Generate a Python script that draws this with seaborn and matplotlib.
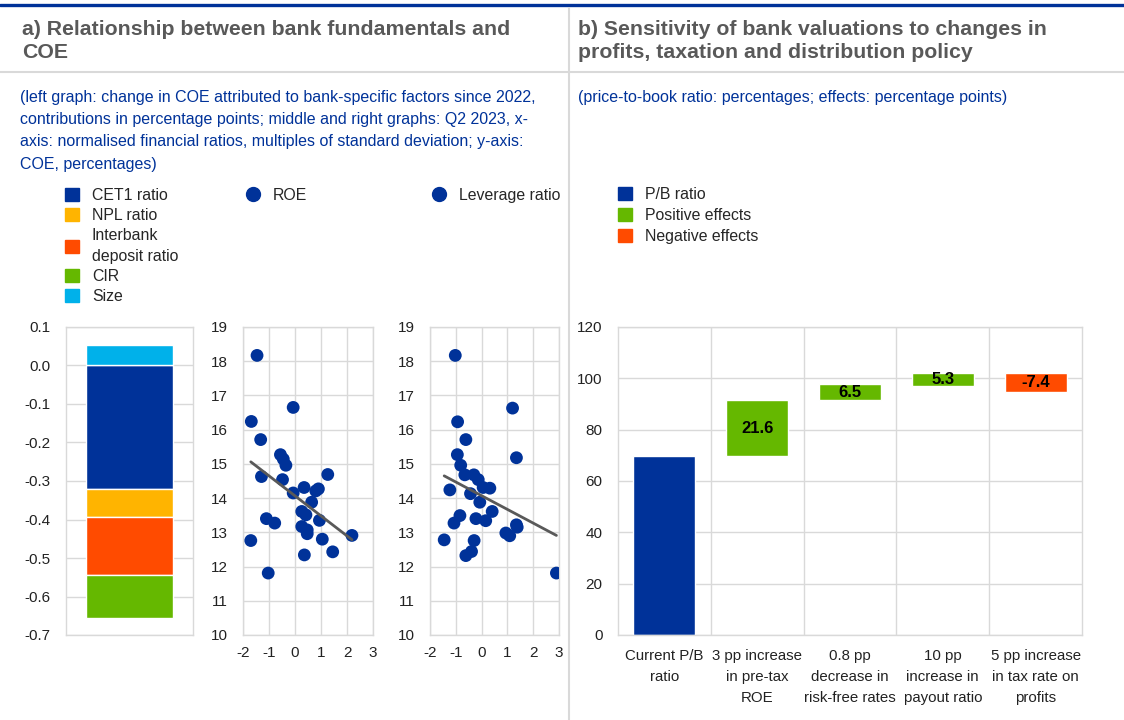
import numpy as np
import pandas as pd
import seaborn as sns
import matplotlib.pyplot as plt
from matplotlib.patches import Patch
from matplotlib.lines import Line2D

# Данные: панель a) вклад факторов в изменение COE
stack_labels = ["CET1 ratio", "NPL ratio", "Interbank\ndeposit ratio", "CIR", "Size"]
stack_values = [-0.321, -0.072, -0.151, -0.113, 0.054]
stack_colors = ["#003299", "#FFB400", "#FF4B00", "#65B800", "#00B1EA"]

# ROE (нормализованный) и COE, %
roe_x = [-1.46, -0.07, -1.68, -1.32, -0.56, -0.45, -0.35, -1.29, -0.48, 1.26,
         0.35, 0.90, 0.80, -0.07, 0.64, 0.26, 0.42, -1.10, -0.78, 0.94,
         0.26, 0.47, 0.47, 2.19, -1.70, 1.05, 1.45, 0.36, -1.03]
roe_coe = [18.17, 16.65, 16.24, 15.71, 15.27, 15.14, 14.96, 14.63, 14.54, 14.69,
           14.31, 14.27, 14.21, 14.15, 13.88, 13.61, 13.51, 13.40, 13.27, 13.35,
           13.17, 13.07, 12.96, 12.91, 12.76, 12.80, 12.43, 12.34, 11.81]

# Leverage ratio (нормализованный) и COE, %
lev_x = [-1.02, 1.20, -0.93, -0.61, -0.94, 1.35, -0.81, -0.65, -0.30, -0.13,
         -1.23, 0.06, 0.32, -0.43, -0.07, 0.41, -0.84, -0.22, 0.16, -1.07,
         1.35, 1.38, 0.94, 1.09, -1.45, -0.29, -0.39, -0.61, 2.90]
lev_coe = [18.17, 16.63, 16.23, 15.71, 15.27, 15.18, 14.96, 14.68, 14.68, 14.54,
           14.24, 14.31, 14.29, 14.13, 13.88, 13.61, 13.49, 13.40, 13.34, 13.27,
           13.22, 13.15, 12.98, 12.90, 12.78, 12.76, 12.44, 12.32, 11.81]

# Панель b) водопад P/B
wf_labels = ["Current P/B\nratio", "3 pp increase\nin pre-tax\nROE", "0.8 pp\ndecrease in\nrisk-free rates",
             "10 pp\nincrease in\npayout ratio", "5 pp increase\nin tax rate on\nprofits"]
wf_start = [0, 69.8, 91.4, 96.9, 102.0]
wf_values = [69.8, 21.6, 6.5, 5.3, -7.4]

BLUE = "#003299"
GREEN = "#65B800"
RED = "#FF4B00"
GRIDC = "#d9d9d9"
TXT = "#222222"

sns.set_style("white")
plt.rcParams["font.family"] = ["Liberation Sans", "DejaVu Sans"]
plt.rcParams["axes.unicode_minus"] = False

W, H = 1124, 720
fig = plt.figure(figsize=(W / 100, H / 100), dpi=100)


def box(l, t, r, b):
    return [l / W, 1 - b / H, (r - l) / W, (b - t) / H]


def style_ax(ax):
    for s in ax.spines.values():
        s.set_color(GRIDC)
        s.set_linewidth(1)
    ax.tick_params(length=0, labelsize=11, colors=TXT)
    ax.tick_params(axis="y", pad=11)
    ax.tick_params(axis="x", pad=8)
    ax.set_axisbelow(True)
    ax.set_xlabel("")
    ax.set_ylabel("")


# рамки и разделители
fig.add_artist(Line2D([0, 1], [1 - 5 / H] * 2, color=BLUE, lw=2.4))
fig.add_artist(Line2D([568.5 / W] * 2, [0, 1 - 8 / H], color=GRIDC, lw=1.5))
fig.add_artist(Line2D([0, 1], [1 - 72 / H] * 2, color=GRIDC, lw=1.5))

fig.text(22 / W, 1 - 41 / H, "a) Relationship between bank fundamentals and\nCOE",
         fontsize=15.3, fontweight="bold", color="#595959", va="center", linespacing=1.22)
fig.text(578 / W, 1 - 41 / H, "b) Sensitivity of bank valuations to changes in\nprofits, taxation and distribution policy",
         fontsize=15.3, fontweight="bold", color="#595959", va="center", linespacing=1.22)
fig.text(20 / W, 1 - 90 / H,
         "(left graph: change in COE attributed to bank-specific factors since 2022,\n"
         "contributions in percentage points; middle and right graphs: Q2 2023, x-\n"
         "axis: normalised financial ratios, multiples of standard deviation; y-axis:\n"
         "COE, percentages)",
         fontsize=11.5, color=BLUE, va="top", linespacing=1.6)
fig.text(578 / W, 1 - 90 / H, "(price-to-book ratio: percentages; effects: percentage points)",
         fontsize=11.5, color=BLUE, va="top")

# --- стековый столбец
ax1 = fig.add_axes(box(66, 327, 193, 635))
pos, neg = 0.0, 0.0
for lab, val, col in zip(stack_labels, stack_values, stack_colors):
    if val >= 0:
        ax1.bar(0, val, bottom=pos, width=0.68, color=col, zorder=2)
        pos += val
    else:
        ax1.bar(0, val, bottom=neg, width=0.68, color=col, zorder=2)
        neg += val
yt = np.round(np.arange(-0.7, 0.11, 0.1), 1)
ax1.set_xlim(-0.5, 0.5)
ax1.set_ylim(-0.7, 0.1)
ax1.set_yticks(yt)
ax1.set_yticklabels([f"{v + 0.0:.1f}" for v in yt])
ax1.set_xticks([])
ax1.yaxis.grid(True, color=GRIDC, lw=1)
style_ax(ax1)

leg1 = fig.legend([Patch(color=c) for c in stack_colors], stack_labels, loc="upper left",
                  bbox_to_anchor=(65 / W, 1 - 188 / H), frameon=False, fontsize=11.4,
                  handlelength=0.9, handleheight=0.9, handletextpad=0.8, labelspacing=0.32,
                  borderaxespad=0, borderpad=0)
for t in leg1.get_texts():
    t.set_linespacing(1.45)


# --- диаграммы рассеяния
def scatter_panel(rect, xs, ys, label, leg_x):
    ax = fig.add_axes(rect)
    df = pd.DataFrame({"x": xs, "y": ys})
    sns.regplot(data=df, x="x", y="y", scatter=False, ci=None, ax=ax,
                line_kws=dict(color="#595959", lw=2, zorder=4))
    sns.scatterplot(data=df, x="x", y="y", ax=ax, s=85, color=BLUE, edgecolor="none",
                    zorder=3, legend=False)
    ax.set_xlim(-2, 3)
    ax.set_ylim(10, 19)
    ax.set_xticks(range(-2, 4))
    ax.set_yticks(range(10, 20))
    ax.grid(True, color=GRIDC, lw=1)
    style_ax(ax)
    fig.legend([Line2D([], [], marker="o", ls="", color=BLUE, markersize=10)], [label],
               loc="upper left", bbox_to_anchor=(leg_x / W, 1 - 188 / H), frameon=False,
               fontsize=11.4, handlelength=1, handletextpad=0.75, borderaxespad=0, borderpad=0)
    return ax


scatter_panel(box(243, 327, 373, 635), roe_x, roe_coe, "ROE", 245)
scatter_panel(box(430, 327, 559, 635), lev_x, lev_coe, "Leverage ratio", 431)

# --- водопад
ax4 = fig.add_axes(box(618, 327, 1082, 635))
wf_colors = [BLUE] + [GREEN if v > 0 else RED for v in wf_values[1:]]
xpos = np.arange(len(wf_values))
ax4.bar(xpos, wf_values, bottom=wf_start, width=0.67, color=wf_colors, zorder=2)
for i in range(1, len(wf_values)):
    ax4.text(i, wf_start[i] + wf_values[i] / 2, f"{wf_values[i]:.1f}", ha="center", va="center",
             fontsize=12, fontweight="bold", color="black", zorder=3)
ax4.set_xlim(-0.5, len(wf_values) - 0.5)
ax4.set_ylim(0, 120)
ax4.set_yticks(range(0, 121, 20))
ax4.set_xticks(xpos)
ax4.set_xticklabels(wf_labels, linespacing=1.65)
ax4.set_xticks(xpos[:-1] + 0.5, minor=True)
ax4.yaxis.grid(True, color=GRIDC, lw=1)
ax4.xaxis.grid(True, which="minor", color=GRIDC, lw=1)
style_ax(ax4)
ax4.tick_params(axis="x", labelsize=10.8, pad=10)
ax4.tick_params(which="minor", length=0)

fig.legend([Patch(color=c) for c in [BLUE, GREEN, RED]], ["P/B ratio", "Positive effects", "Negative effects"],
           loc="upper left", bbox_to_anchor=(618 / W, 1 - 187 / H), frameon=False, fontsize=11.4,
           handlelength=0.9, handleheight=0.9, handletextpad=0.8, labelspacing=0.38,
           borderaxespad=0, borderpad=0)

fig.savefig("out.png", dpi=100)
